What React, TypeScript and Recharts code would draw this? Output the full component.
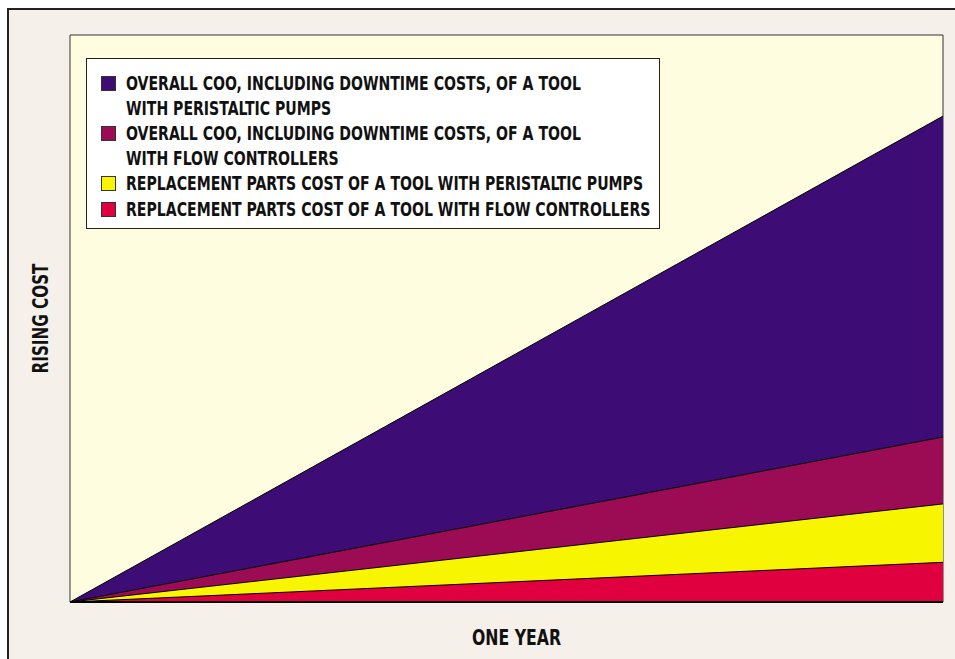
import React from 'react';
import {
  ComposedChart,
  Area,
  XAxis,
  YAxis,
  ReferenceArea,
} from 'recharts';

// start and end of the year
const periods = [0, 1];

// cost at the start and at the end of the year (share of the axis height)
const cooPeristaltic = [0, 85.7];
const cooFlow = [0, 29.1];
const partsPeristaltic = [0, 17.3];
const partsFlow = [0, 7.0];

const seriesKeys = ['cooPeristaltic', 'cooFlow', 'partsPeristaltic', 'partsFlow'];
const seriesColors = ['#3d0c75', '#9c0c55', '#f8f500', '#e0003f'];
const seriesLabels = [
  ['OVERALL COO, INCLUDING DOWNTIME COSTS, OF A TOOL', 'WITH PERISTALTIC PUMPS'],
  ['OVERALL COO, INCLUDING DOWNTIME COSTS, OF A TOOL', 'WITH FLOW CONTROLLERS'],
  ['REPLACEMENT PARTS COST OF A TOOL WITH PERISTALTIC PUMPS'],
  ['REPLACEMENT PARTS COST OF A TOOL WITH FLOW CONTROLLERS'],
];

const chartData = periods.map((t, i) => ({
  t,
  cooPeristaltic: cooPeristaltic[i],
  cooFlow: cooFlow[i],
  partsPeristaltic: partsPeristaltic[i],
  partsFlow: partsFlow[i],
}));

const FONT = "'DejaVu Sans Condensed', 'DejaVu Sans', sans-serif";

function LegendBox() {
  return (
    <div
      style={{
        position: 'absolute',
        left: 86,
        top: 58,
        width: 574,
        height: 171,
        boxSizing: 'border-box',
        border: '1px solid #222',
        background: '#fff',
        padding: '12px 0 0 14px',
        fontFamily: FONT,
        fontWeight: 700,
        fontSize: 19,
        color: '#111',
      }}
    >
      {seriesLabels.map((lines, i) => (
        <div key={i} style={{ display: 'flex', alignItems: 'flex-start', marginBottom: 1 }}>
          <span
            style={{
              width: 13,
              height: 13,
              border: '1px solid #333',
              background: seriesColors[i],
              marginTop: 5,
              marginRight: 10,
              flexShrink: 0,
            }}
          />
          <div style={{ transform: 'scaleX(0.824)', transformOrigin: 'left center' }}>
            {lines.map((l, j) => (
              <div key={j} style={{ lineHeight: '24.5px', whiteSpace: 'nowrap' }}>{l}</div>
            ))}
          </div>
        </div>
      ))}
    </div>
  );
}

export default function App() {
  return (
    <div style={{ position: 'absolute', left: 0, top: 0, width: 955, height: 659, background: '#fff', overflow: 'hidden' }}>
      <div
        style={{
          position: 'absolute',
          left: 7,
          top: 8,
          width: 960,
          height: 660,
          borderLeft: '2px solid #222',
          borderTop: '2px solid #222',
          background: '#f5f0ea',
        }}
      />
      <div style={{ position: 'absolute', left: 0, top: 0 }}>
        <ComposedChart
          width={955}
          height={659}
          data={chartData}
          margin={{ top: 35, right: 12, bottom: 0, left: 0 }}
        >
          <XAxis
            dataKey="t"
            type="number"
            domain={[0, 1]}
            tick={false}
            tickLine={false}
            axisLine={{ stroke: '#000', strokeWidth: 2 }}
            height={57}
            label={{
              content: ({ viewBox }: any) => (
                <text
                  x={viewBox.x + viewBox.width / 2 + 10}
                  y={viewBox.y + 43}
                  textAnchor="middle"
                  textLength={89}
                  lengthAdjust="spacingAndGlyphs"
                  fontFamily={FONT}
                  fontWeight={700}
                  fontSize={21}
                  fill="#111"
                >
                  ONE YEAR
                </text>
              ),
            }}
          />
          <YAxis
            type="number"
            domain={[0, 100]}
            tick={false}
            tickLine={false}
            axisLine={false}
            width={70}
            label={{
              content: ({ viewBox }: any) => {
                const cx = viewBox.x + 41;
                const cy = viewBox.y + viewBox.height / 2;
                return (
                  <text
                    x={cx}
                    y={cy}
                    transform={`rotate(-90 ${cx} ${cy})`}
                    textAnchor="middle"
                    dominantBaseline="central"
                    textLength={110}
                    lengthAdjust="spacingAndGlyphs"
                    fontFamily={FONT}
                    fontWeight={700}
                    fontSize={21}
                    fill="#111"
                  >
                    RISING COST
                  </text>
                );
              },
            }}
          />
          <ReferenceArea
            x1={0}
            x2={1}
            y1={0}
            y2={100}
            fill="#fefde0"
            fillOpacity={1}
            stroke="#333"
            strokeWidth={1}
            ifOverflow="extendDomain"
          />
          {seriesKeys.map((k, i) => (
            <Area
              key={k}
              type="linear"
              dataKey={k}
              stroke="#000"
              strokeWidth={1}
              fill={seriesColors[i]}
              fillOpacity={1}
              isAnimationActive={false}
              dot={false}
              activeDot={false}
            />
          ))}
        </ComposedChart>
      </div>
      <LegendBox />
    </div>
  );
}
